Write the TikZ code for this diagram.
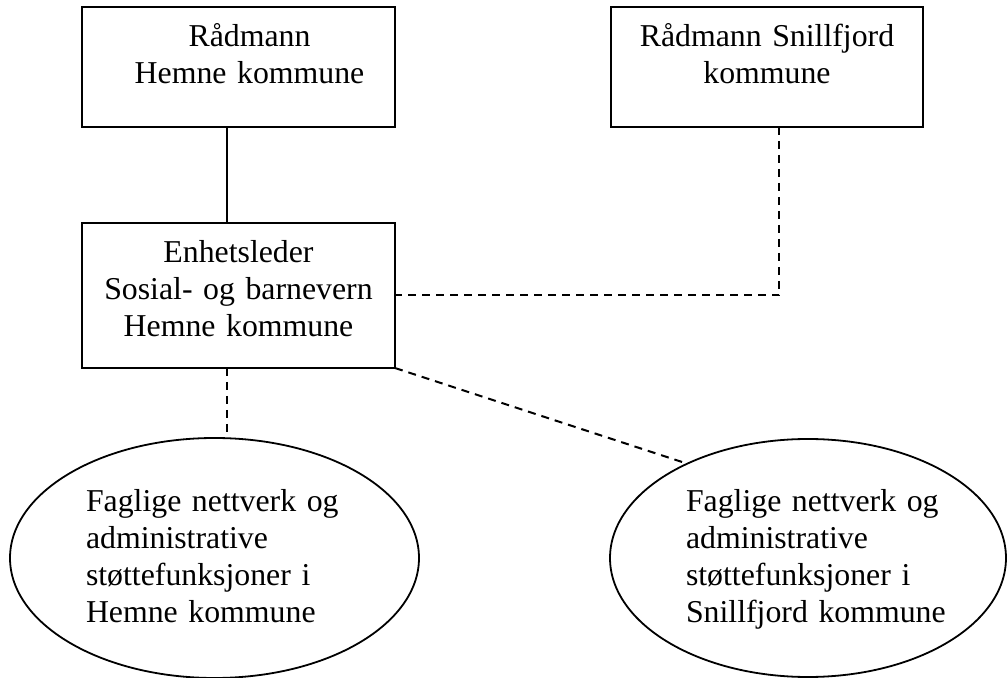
\documentclass[tikz,border=0pt]{standalone}
\usepackage{fontspec}
\setmainfont{Liberation Serif}
\usetikzlibrary{shapes.geometric}

\newcommand\netind{\hspace*{9pt}}

\begin{document}
\begin{tikzpicture}[x=0.5pt, y=-0.5pt,
    font=\fontsize{15.9pt}{18.4pt}\selectfont,
    office/.style={draw, line width=1pt, rectangle, inner sep=0pt, outer sep=0pt,
      text width=156.5pt, align=center, text height=20pt},
    nett/.style={draw, line width=0.9pt, ellipse, inner sep=0pt, outer sep=0pt,
      text width=128.5pt, align=left, text height=10pt, text depth=56pt},
    link/.style={line width=1pt},
    dashlink/.style={link, dash pattern=on 4pt off 3pt}]
        \useasboundingbox (0,0) rectangle (1007,678);

        % offices
        \node[office, text depth=40pt] (hemne) at (238.5,67)
          {\hspace*{11pt}Rådmann\\\hspace*{11pt}Hemne kommune};
        \node[office, text width=156pt, text depth=40pt] (snillfjord) at (767,67)
          {Rådmann Snillfjord\\kommune};
        \node[office, text depth=52.5pt] (enhet) at (238.5,295.5)
          {Enhetsleder\\Sosial- og barnevern\\Hemne kommune};

        % networks
        \node[nett, minimum width=204.5pt, minimum height=120pt] (netthemne) at (214.5,558)
          {Faglige nettverk og\\administrative\\støttefunksjoner i\\Hemne kommune};
        \node[nett, text width=140pt, minimum width=197pt, minimum height=119pt] (nettsnill) at (808,558)
          {\netind Faglige nettverk og\\\netind administrative\\\netind støttefunksjoner i\\\netind Snillfjord kommune};

        \coordinate (spine) at (227,0);
        \coordinate (snill) at (779,0);

        \draw[link] (hemne.south -| spine) -- (enhet.north -| spine);
        \draw[dashlink] (snillfjord.south -| snill) |- (enhet.east);
        \draw[dashlink] (enhet.south -| spine) -- (netthemne.north -| spine);
        \draw[dashlink] (enhet.south east) -- (nettsnill.142.8);
      \end{tikzpicture}
\end{document}
